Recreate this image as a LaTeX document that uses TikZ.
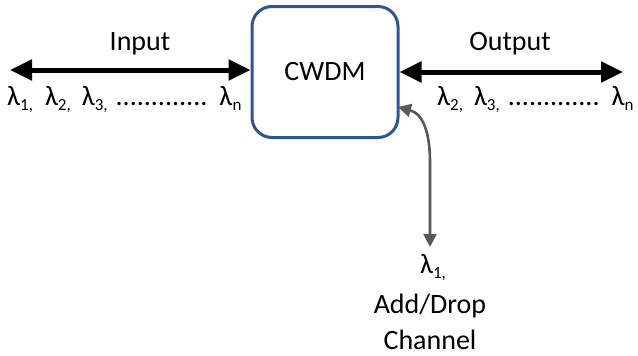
\documentclass[tikz,border=0pt]{standalone}
\usepackage{fontspec}
\setmainfont{Carlito}
\usetikzlibrary{arrows.meta}
\definecolor{boxblue}{RGB}{47,85,151}
\definecolor{arrgray}{RGB}{89,89,89}
\newcommand{\lsub}[1]{\raisebox{-5pt}{\fontsize{17}{18}\selectfont #1}}
\tikzset{
  lbl/.style={font=\fontsize{28}{30}\selectfont, inner sep=0pt},
  lamrow/.style={font=\fontsize{28}{30}\selectfont, inner sep=0pt, anchor=west},
  bigarrow/.style={line width=5pt, black, {Triangle[length=22pt,width=20pt]}-{Triangle[length=22pt,width=20pt]}},
  grayarrow/.style={line width=2.6pt, arrgray, {Triangle[length=13pt,width=13pt]}-{Triangle[length=13pt,width=13pt]}},
}
\begin{document}
\begin{tikzpicture}[x=1pt,y=-1pt]
\useasboundingbox (0,0) rectangle (638,356);
\node[draw=boxblue, line width=3pt, rounded corners=20pt, minimum width=146pt, minimum height=131pt, inner sep=0pt] (cwdm) at (325,72) {};
\node[lbl] (cw) at (325,72) {CWDM};
\node[lbl] (inlbl) at (140,44) {Input};
\node[lbl] (outlbl) at (510,44) {Output};
\coordinate (inL) at (10,70);
\coordinate (outR) at (623,72);
\draw[bigarrow] (inL) -- (cwdm.west |- inL);
\draw[bigarrow] (cwdm.east |- outR) -- (outR);
\node[lamrow] (inlam) at (7,100) {λ\lsub{1,}\hspace{12pt}λ\lsub{2,}\hspace{11pt}λ\lsub{3,}\hspace{8pt}.............\hspace{12pt}λ\lsub{n}};
\node[lamrow] (outlam) at (437,100) {λ\lsub{2,}\hspace{11pt}λ\lsub{3,}\hspace{8pt}.............\hspace{12pt}λ\lsub{n}};
\coordinate (gtop) at (398,107);
\coordinate (gbot) at (430,247);
\draw[grayarrow] (gtop) .. controls (424,114) and (430,135) .. (430,162) -- (gbot);
\node[lamrow, anchor=center] (l1) at (433,268) {λ\lsub{1,}};
\node[lbl] (adl) at (430,306) {Add/Drop};
\node[lbl] (chl) at (430,340) {Channel};
\end{tikzpicture}
\end{document}
